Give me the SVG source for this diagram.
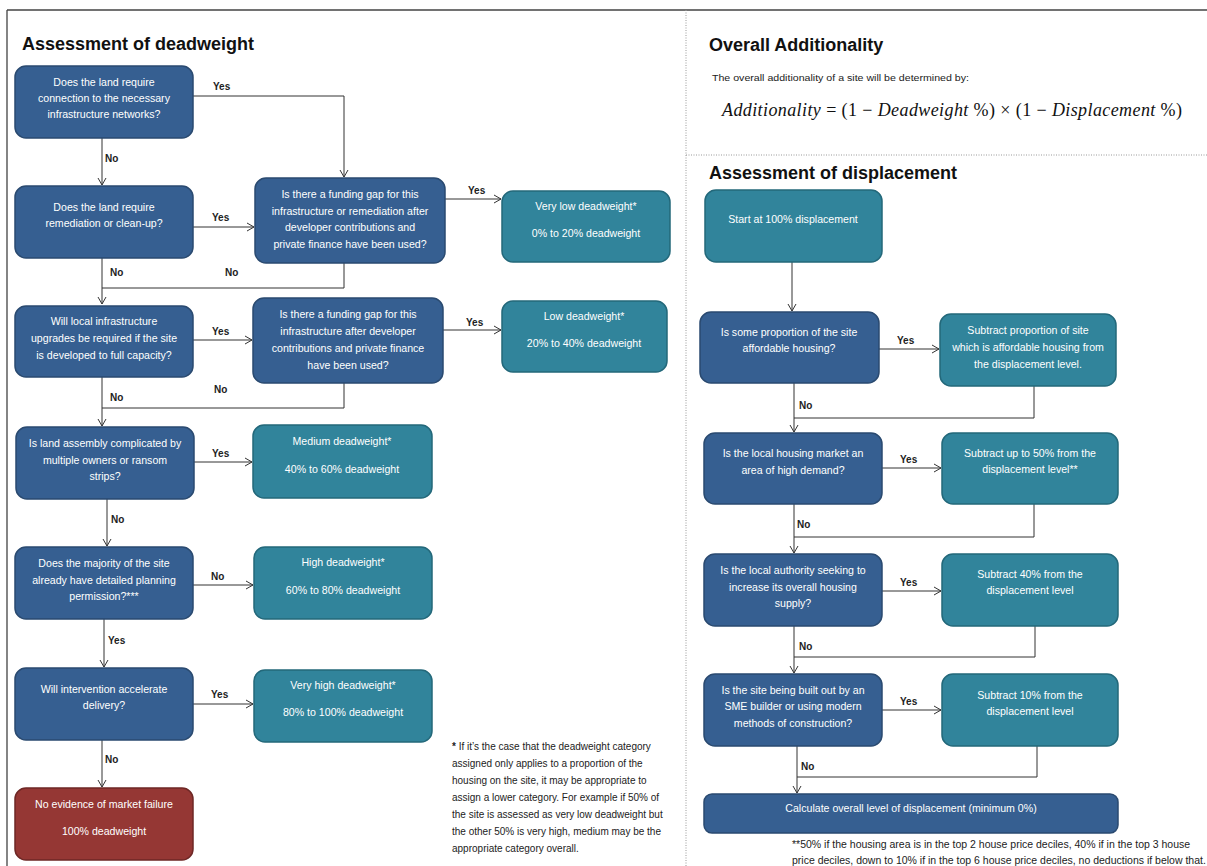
<svg xmlns="http://www.w3.org/2000/svg" width="1207" height="866" viewBox="0 0 1207 866">
<style>
.q{fill:#365F91;stroke:#2A4A70;stroke-width:1.5}
.t{fill:#31849B;stroke:#23687A;stroke-width:1.5}
.r{fill:#953734;stroke:#6E2725;stroke-width:1.5}
.bt{font-family:"Liberation Sans",Arial,sans-serif;font-size:10.6px;fill:#fff;text-anchor:middle}
.lb{font-family:"Liberation Sans",Arial,sans-serif;font-size:10px;font-weight:bold;fill:#222}
.h{font-family:"Liberation Sans",Arial,sans-serif;font-size:18px;font-weight:bold;fill:#111}
.fn{font-family:"Liberation Sans",Arial,sans-serif;font-size:10px;fill:#222}
.fn2{font-family:"Liberation Sans",Arial,sans-serif;font-size:10.5px;fill:#222}
.c{fill:none;stroke:#333;stroke-width:1}
.a{marker-end:url(#ah)}
.sep{fill:none;stroke:#999;stroke-width:1;stroke-dasharray:1,1.5}
</style>
<defs>
<marker id="ah" markerWidth="10" markerHeight="10" refX="8" refY="5" orient="auto" markerUnits="userSpaceOnUse">
<path d="M1,1 L8,5 L1,9" fill="none" stroke="#333" stroke-width="1"/>
</marker>
</defs>
<rect width="1207" height="866" fill="#fff"/>
<g id="frame">
<path d="M7,10 H1207 M7,10 V866" fill="none" stroke="#444" stroke-width="1.3"/>
<path class="sep" d="M686,10 V866 M686,155 H1207"/>
</g>
<g id="titles">
<text class="h" x="22" y="50">Assessment of deadweight</text>
<text class="h" x="709" y="51">Overall Additionality</text>
<text class="h" x="709" y="179">Assessment of displacement</text>
<text x="712" y="81" font-family="Liberation Sans,Arial,sans-serif" font-size="9.6" fill="#222" textLength="257" lengthAdjust="spacingAndGlyphs">The overall additionality of a site will be determined by:</text>
<text x="722" y="116" font-family="Liberation Serif,Times New Roman,serif" font-size="18" fill="#111" textLength="460" lengthAdjust="spacing"><tspan font-style="italic">Additionality</tspan> = (1 − <tspan font-style="italic">Deadweight</tspan> %)  × (1 − <tspan font-style="italic">Displacement</tspan> %)</text>
</g>
<g id="connectors">
<path class="c a" d="M193,96 H344 V177"/>
<path class="c a" d="M102,138 V185"/>
<path class="c a" d="M193,227 H254"/>
<path class="c a" d="M445,199 H501"/>
<path class="c a" d="M102,258 V304"/>
<path class="c" d="M344,263 V288 H102"/>
<path class="c a" d="M193,340 H252"/>
<path class="c a" d="M443,330 H501"/>
<path class="c a" d="M102,377 V426"/>
<path class="c" d="M344,383 V408 H102"/>
<path class="c a" d="M194,462 H252"/>
<path class="c a" d="M107,499 V546"/>
<path class="c a" d="M193,585 H253"/>
<path class="c a" d="M104,619 V667"/>
<path class="c a" d="M193,704 H253"/>
<path class="c a" d="M102,740 V787"/>
<path class="c a" d="M792,262 V311"/>
<path class="c a" d="M879,349 H939"/>
<path class="c a" d="M794,383 V432"/>
<path class="c" d="M1034,386 V418 H794"/>
<path class="c a" d="M882,468 H941"/>
<path class="c a" d="M794,504 V553"/>
<path class="c" d="M1034,504 V537 H794"/>
<path class="c a" d="M882,591 H941"/>
<path class="c a" d="M794,626 V673"/>
<path class="c" d="M1035,626 V657 H794"/>
<path class="c a" d="M882,710 H941"/>
<path class="c a" d="M797,746 V793"/>
<path class="c" d="M1037,746 V777 H797"/>
<text class="lb" x="213" y="90">Yes</text>
<text class="lb" x="105" y="162">No</text>
<text class="lb" x="212" y="221">Yes</text>
<text class="lb" x="468" y="194">Yes</text>
<text class="lb" x="110" y="276">No</text>
<text class="lb" x="225" y="276">No</text>
<text class="lb" x="212" y="335">Yes</text>
<text class="lb" x="466" y="326">Yes</text>
<text class="lb" x="110" y="401">No</text>
<text class="lb" x="214" y="393">No</text>
<text class="lb" x="212" y="457">Yes</text>
<text class="lb" x="111" y="523">No</text>
<text class="lb" x="211" y="580">No</text>
<text class="lb" x="108" y="644">Yes</text>
<text class="lb" x="211" y="698">Yes</text>
<text class="lb" x="105" y="763">No</text>
<text class="lb" x="897" y="344">Yes</text>
<text class="lb" x="799" y="409">No</text>
<text class="lb" x="900" y="463">Yes</text>
<text class="lb" x="797" y="528">No</text>
<text class="lb" x="900" y="586">Yes</text>
<text class="lb" x="799" y="650">No</text>
<text class="lb" x="900" y="705">Yes</text>
<text class="lb" x="801" y="770">No</text>
</g>
<g id="n1"><rect class="q" x="15" y="66" width="178" height="72" rx="11"/>
<text class="bt"><tspan x="104" y="86">Does the land require</tspan><tspan x="104" y="102">connection to the necessary</tspan><tspan x="104" y="118">infrastructure networks?</tspan></text></g>
<g id="n2"><rect class="q" x="15" y="186" width="178" height="72" rx="11"/>
<text class="bt"><tspan x="104" y="211">Does the land require</tspan><tspan x="104" y="227">remediation or clean-up?</tspan></text></g>
<g id="n3"><rect class="q" x="255" y="178" width="190" height="85" rx="11"/>
<text class="bt"><tspan x="350" y="198">Is there a funding gap for this</tspan><tspan x="350" y="215">infrastructure or remediation after</tspan><tspan x="350" y="231">developer contributions and</tspan><tspan x="350" y="248">private finance have been used?</tspan></text></g>
<g id="n4"><rect class="t" x="502" y="191" width="168" height="71" rx="11"/>
<text class="bt"><tspan x="586" y="210">Very low deadweight*</tspan><tspan x="586" y="237">0% to 20% deadweight</tspan></text></g>
<g id="n5"><rect class="q" x="15" y="306" width="178" height="71" rx="11"/>
<text class="bt"><tspan x="104" y="325">Will local infrastructure</tspan><tspan x="104" y="342">upgrades be required if the site</tspan><tspan x="104" y="359">is developed to full capacity?</tspan></text></g>
<g id="n6"><rect class="q" x="253" y="298" width="190" height="85" rx="11"/>
<text class="bt"><tspan x="348" y="318">Is there a funding gap for this</tspan><tspan x="348" y="335">infrastructure after developer</tspan><tspan x="348" y="352">contributions and private finance</tspan><tspan x="348" y="369">have been used?</tspan></text></g>
<g id="n7"><rect class="t" x="502" y="301" width="165" height="71" rx="11"/>
<text class="bt"><tspan x="584" y="320">Low deadweight*</tspan><tspan x="584" y="347">20% to 40% deadweight</tspan></text></g>
<g id="n8"><rect class="q" x="16" y="427" width="178" height="72" rx="11"/>
<text class="bt"><tspan x="105" y="447">Is land assembly complicated by</tspan><tspan x="105" y="464">multiple owners or ransom</tspan><tspan x="105" y="480">strips?</tspan></text></g>
<g id="n9"><rect class="t" x="253" y="425" width="179" height="73" rx="11"/>
<text class="bt"><tspan x="342" y="445">Medium deadweight*</tspan><tspan x="342" y="473">40% to 60% deadweight</tspan></text></g>
<g id="n10"><rect class="q" x="15" y="547" width="178" height="72" rx="11"/>
<text class="bt"><tspan x="104" y="567">Does the majority of the site</tspan><tspan x="104" y="584">already have detailed planning</tspan><tspan x="104" y="600">permission?***</tspan></text></g>
<g id="n11"><rect class="t" x="254" y="547" width="178" height="72" rx="11"/>
<text class="bt"><tspan x="343" y="566">High deadweight*</tspan><tspan x="343" y="594">60% to 80% deadweight</tspan></text></g>
<g id="n12"><rect class="q" x="15" y="668" width="178" height="72" rx="11"/>
<text class="bt"><tspan x="104" y="693">Will intervention accelerate</tspan><tspan x="104" y="709">delivery?</tspan></text></g>
<g id="n13"><rect class="t" x="254" y="670" width="178" height="72" rx="11"/>
<text class="bt"><tspan x="343" y="689">Very high deadweight*</tspan><tspan x="343" y="716">80% to 100% deadweight</tspan></text></g>
<g id="n14"><rect class="r" x="15" y="788" width="178" height="72" rx="11"/>
<text class="bt"><tspan x="104" y="808">No evidence of market failure</tspan><tspan x="104" y="835">100% deadweight</tspan></text></g>
<g id="note1"><text class="fn"><tspan x="452" y="750"><tspan font-weight="bold">*</tspan> If it’s the case that the deadweight category</tspan><tspan x="452" y="767">assigned only applies to a proportion of the</tspan><tspan x="452" y="784">housing on the site, it may be appropriate to</tspan><tspan x="452" y="801">assign a lower category. For example if 50% of</tspan><tspan x="452" y="818">the site is assessed as very low deadweight but</tspan><tspan x="452" y="835">the other 50% is very high, medium may be the</tspan><tspan x="452" y="852">appropriate category overall.</tspan></text></g>
<g id="d1"><rect class="t" x="705" y="190" width="177" height="72" rx="11"/>
<text class="bt" x="793" y="223">Start at 100% displacement</text></g>
<g id="d2"><rect class="q" x="700" y="312" width="179" height="71" rx="11"/>
<text class="bt"><tspan x="789" y="336">Is some proportion of the site</tspan><tspan x="789" y="352">affordable housing?</tspan></text></g>
<g id="d3"><rect class="t" x="940" y="314" width="176" height="72" rx="11"/>
<text class="bt"><tspan x="1028" y="334">Subtract proportion of site</tspan><tspan x="1028" y="351">which is affordable housing from</tspan><tspan x="1028" y="368">the displacement level.</tspan></text></g>
<g id="d4"><rect class="q" x="704" y="433" width="178" height="71" rx="11"/>
<text class="bt"><tspan x="793" y="457">Is the local housing market an</tspan><tspan x="793" y="474">area of high demand?</tspan></text></g>
<g id="d5"><rect class="t" x="942" y="433" width="176" height="71" rx="11"/>
<text class="bt"><tspan x="1030" y="457">Subtract up to 50% from the</tspan><tspan x="1030" y="473">displacement level**</tspan></text></g>
<g id="d6"><rect class="q" x="704" y="554" width="178" height="72" rx="11"/>
<text class="bt"><tspan x="793" y="574">Is the local authority seeking to</tspan><tspan x="793" y="591">increase its overall housing</tspan><tspan x="793" y="607">supply?</tspan></text></g>
<g id="d7"><rect class="t" x="942" y="554" width="176" height="72" rx="11"/>
<text class="bt"><tspan x="1030" y="578">Subtract 40% from the</tspan><tspan x="1030" y="594">displacement level</tspan></text></g>
<g id="d8"><rect class="q" x="704" y="674" width="178" height="72" rx="11"/>
<text class="bt"><tspan x="793" y="694">Is the site being built out by an</tspan><tspan x="793" y="710">SME builder or using modern</tspan><tspan x="793" y="727">methods of construction?</tspan></text></g>
<g id="d9"><rect class="t" x="942" y="674" width="176" height="72" rx="11"/>
<text class="bt"><tspan x="1030" y="699">Subtract 10% from the</tspan><tspan x="1030" y="715">displacement level</tspan></text></g>
<g id="d10"><rect class="q" x="704" y="794" width="414" height="39" rx="8"/>
<text class="bt" x="911" y="812">Calculate overall level of displacement (minimum 0%)</text></g>
<g id="note2"><text class="fn2"><tspan x="792" y="848">**50% if the housing area is in the top 2 house price deciles, 40% if in the top 3 house</tspan><tspan x="792" y="864">price deciles, down to 10% if in the top 6 house price deciles, no deductions if below that.</tspan></text></g>
</svg>
